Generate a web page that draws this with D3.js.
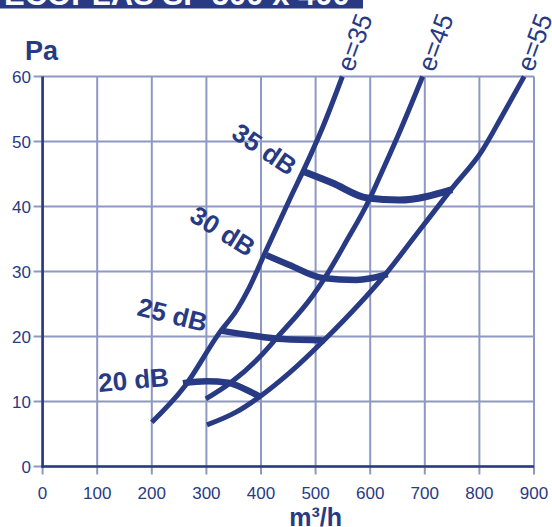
<!DOCTYPE html>
<html>
<head>
<meta charset="utf-8">
<script src="https://cdn.jsdelivr.net/npm/d3@7"></script>
<style>
html,body{margin:0;padding:0;background:#fff;}
svg{display:block;font-family:"Liberation Sans",Arial,sans-serif;}
</style>
</head>
<body>
<svg id="chart" width="552" height="527"></svg>
<script>
// ---- data ----
const xTicks = [0,100,200,300,400,500,600,700,800,900];
const yTicks = [0,10,20,30,40,50,60];
const titleText = "ECOPLAS SP 500 x 400";
const xLabel = "m³/h";
const yLabel = "Pa";

// damper opening curves (m³/h, Pa)
const curveNames = ["e=35","e=45","e=55"];
const e35 = [[200,6.8],[260,12.3],[324,20.6],[355,24.0],[379,27.6],[407,32.8],[452,41],[489,47.6],[513,52.2],[549,60]];
const e45 = [[299,10.4],[346,13],[397,16.8],[430,19.9],[494,26.2],[516,28.9],[556,34.6],[598,41],[617,44.5],[653,51.3],[696,60]];
const e55 = [[301,6.4],[355,8.4],[397,10.7],[452,14.4],[520,19.8],[630,29.8],[690,36.3],[750,42.8],[805,48.6],[842,54],[882,60]];

// sound level curves
const dbNames = ["20 dB","25 dB","30 dB","35 dB"];
const db20 = [[257,12.8],[300,13.1],[340,12.9],[373,11.8],[397,10.8]];
const db25 = [[326,20.9],[380,20.2],[440,19.6],[516,19.4]];
const db30 = [[410,32.5],[452,31],[513,29],[575,28.7],[632,29.6]];
const db35 = [[480,45.3],[531,43.6],[595,41.3],[653,41],[750,42.6]];

// ---- layout ----
const navy = "#283a84";
const gridCol = "#8f98c2";
const svg = d3.select("#chart");
const x = d3.scaleLinear().domain([0,900]).range([42.6,534]);
const y = d3.scaleLinear().domain([0,60]).range([466.5,76.5]);

// title banner (cut off at top)
svg.append("rect").attr("x",0).attr("y",0).attr("width",363).attr("height",8.5).attr("fill",navy);
svg.append("text").attr("x",4).attr("y",5).attr("fill","#fff")
  .attr("font-weight","bold").attr("font-size",31).text(titleText);

// grid
svg.append("g").selectAll("line").data(xTicks).join("line")
  .attr("x1",d=>x(d)).attr("x2",d=>x(d)).attr("y1",y(60)).attr("y2",y(0)+8)
  .attr("stroke",gridCol).attr("stroke-width",2);
svg.append("g").selectAll("line").data(yTicks).join("line")
  .attr("x1",x(0)-9).attr("x2",x(900)).attr("y1",d=>y(d)).attr("y2",d=>y(d))
  .attr("stroke",gridCol).attr("stroke-width",2);

// axes lines
svg.append("line").attr("x1",x(0)).attr("x2",x(0)).attr("y1",y(60)).attr("y2",y(0)+1.2)
  .attr("stroke",navy).attr("stroke-width",2.6);
svg.append("line").attr("x1",x(0)-1.2).attr("x2",x(900)).attr("y1",y(0)).attr("y2",y(0))
  .attr("stroke",navy).attr("stroke-width",2.6);

// tick labels
svg.append("g").selectAll("text").data(xTicks).join("text")
  .attr("x",d=>x(d)).attr("y",499).attr("text-anchor","middle")
  .attr("font-size",17).attr("fill",navy).text(d=>d);
svg.append("g").selectAll("text").data(yTicks).join("text")
  .attr("x",31).attr("y",d=>y(d)).attr("dy","0.36em").attr("text-anchor","end")
  .attr("font-size",17).attr("fill",navy).text(d=>d);

// axis titles
svg.append("text").attr("x",25).attr("y",60).attr("font-size",27).attr("font-weight","bold")
  .attr("fill",navy).text(yLabel);
svg.append("text").attr("x",x(500)).attr("y",526).attr("text-anchor","middle")
  .attr("font-size",25).attr("font-weight","bold").attr("fill",navy).text(xLabel);

// curves
const line = d3.line().x(d=>x(d[0])).y(d=>y(d[1])).curve(d3.curveMonotoneX);
[e35,e45,e55].forEach(c=>{
  svg.append("path").attr("d",line(c)).attr("fill","none").attr("stroke",navy)
    .attr("stroke-width",5);
});
[db20,db25,db30,db35].forEach((c,i)=>{
  svg.append("path").attr("d",line(c)).attr("fill","none").attr("stroke",navy)
    .attr("stroke-width",i===3?7:6.5);
});

// curve labels
const eLabelPos = [[353,73],[434,73],[533,73]];
curveNames.forEach((t,i)=>{
  svg.append("text").attr("transform",`translate(${eLabelPos[i][0]},${eLabelPos[i][1]}) rotate(-70)`)
    .attr("font-size",26).attr("fill",navy).text(t);
});
const dbLabelPos = [[99,392,-5],[136,315,14],[188,220,32],[230,137,34]];
dbNames.forEach((t,i)=>{
  const p = dbLabelPos[i];
  svg.append("text").attr("transform",`translate(${p[0]},${p[1]}) rotate(${p[2]})`)
    .attr("font-size",26).attr("font-weight","bold").attr("fill",navy).text(t);
});
</script>
</body>
</html>
